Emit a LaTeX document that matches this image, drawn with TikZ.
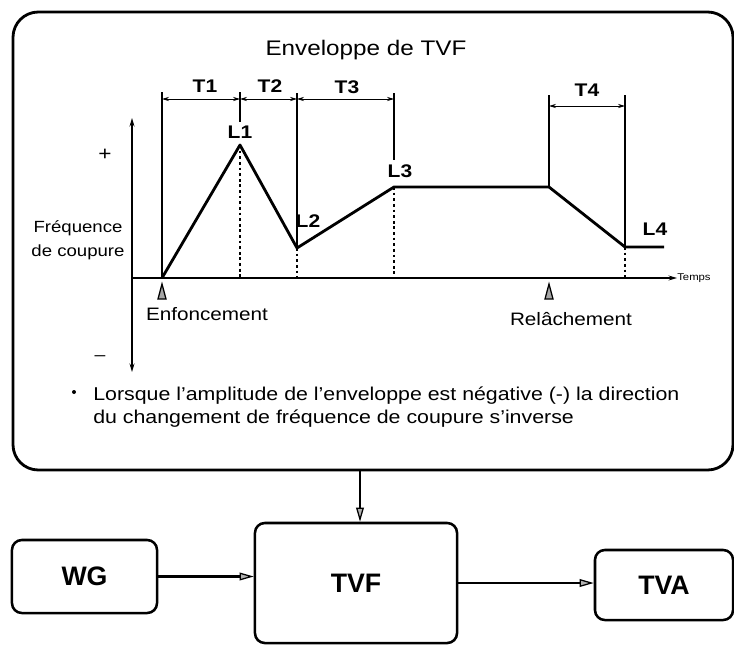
\documentclass[tikz,border=0pt]{standalone}
\usepackage{fontspec}
\setmainfont{Liberation Sans}[FakeStretch=1.15]
\newfontfamily\blockfont{Liberation Sans}
\usetikzlibrary{arrows.meta}

\tikzset{
	block/.style={draw, line width=1.8pt, rounded corners=7pt, inner sep=0pt,
		font=\blockfont\bfseries\fontsize{19}{22}\selectfont},
	flow/.style={line width=1.5pt, -{Triangle[length=10pt, width=5.5pt, line width=0.9pt, fill=gray!60]}},
	tspan/.style={line width=0.7pt, {Stealth[length=5pt, width=3pt]}-{Stealth[length=5pt, width=3pt]}},
	guide/.style={line width=0.8pt},
	drop/.style={line width=0.9pt, dash pattern=on 2pt off 2pt},
	tlabel/.style={inner sep=0pt, font=\bfseries\fontsize{13}{15}\selectfont},
	trig/.style={fill=gray!70, draw=black, line width=0.9pt},
}

\begin{document}
\begin{tikzpicture}[x=0.025cm, y=-0.025cm]
	\useasboundingbox (0,0) rectangle (734,644);

	\draw[line width=2pt, rounded corners=18pt] (13,12) rectangle (733,470);
	\coordinate (envbot) at (360,470);

	\node[font=\fontsize{15}{18}\selectfont] at (366,50) {Enveloppe de TVF};

	\draw[line width=0.9pt, {Stealth[length=6pt, width=3.5pt]}-{Stealth[length=6pt, width=3.5pt]}] (132,372) -- (132,118);
	\draw[line width=0.9pt, -{Stealth[length=6pt, width=3.5pt]}] (132,278) -- (677,278);
	\node[anchor=west, inner sep=0pt, font=\fontsize{7}{8}\selectfont] at (677,278) {Temps};

	\node[font=\fontsize{14}{16}\selectfont] at (105,155) {+};
	\node[font=\fontsize{12}{14}\selectfont] at (100,358) {–};
	\node[align=center, font=\fontsize{11.5}{17}\selectfont] at (78,240) {Fréquence\\de coupure};

	\draw[guide] (162,92) -- (162,278);
	\draw[guide] (240,92) -- (240,122);
	\draw[guide] (297,93) -- (297,248);
	\draw[guide] (394,93) -- (394,160);
	\draw[guide] (549,95) -- (549,187);
	\draw[guide] (625,95) -- (625,247);

	\draw[drop] (240,145) -- (240,278);
	\draw[drop] (297,248) -- (297,278);
	\draw[drop] (394,187) -- (394,278);
	\draw[drop] (625,247) -- (625,278);

	\draw[line width=2pt, line join=round] (162,278) -- (240,145) -- (297,248) -- (394,187)
		-- (549,187) -- (625,247) -- (664,247);

	\draw[tspan] (162,99) -- (240,99);
	\draw[tspan] (240,99) -- (297,99);
	\draw[tspan] (297,99) -- (394,99);
	\draw[tspan] (549,106) -- (625,106);

	\node[tlabel] at (205,86) {T1};
	\node[tlabel] at (270,86) {T2};
	\node[tlabel] at (347,87) {T3};
	\node[tlabel] at (587,90) {T4};

	\node[tlabel] at (240,132) {L1};
	\node[tlabel] at (308,221) {L2};
	\node[tlabel] at (400,171) {L3};
	\node[tlabel] at (655,229) {L4};

	\filldraw[trig] (162,284) -- (158,299) -- (166,299) -- cycle;
	\filldraw[trig] (549,284) -- (545,299) -- (553,299) -- cycle;

	\node[font=\fontsize{12.8}{15}\selectfont] at (207,314) {Enfoncement};
	\node[font=\fontsize{12.8}{15}\selectfont] at (571,319) {Relâchement};

	\fill (74,392) circle (2);
	\node[anchor=base west, inner sep=0pt, font=\fontsize{13.2}{15}\selectfont] at (93,400)
		{Lorsque l'amplitude de l'enveloppe est négative (-) la direction};
	\node[anchor=base west, inner sep=0pt, font=\fontsize{13.2}{15}\selectfont] at (93,423)
		{du changement de fréquence de coupure s'inverse};

	\node[block, minimum width=3.625cm, minimum height=1.825cm] (wg) at (84.5,576.5) {WG};
	\node[block, minimum width=5.05cm, minimum height=3cm] (tvf) at (356,583) {TVF};
	\node[block, minimum width=3.45cm, minimum height=1.75cm] (tva) at (664,585) {TVA};

	\draw[flow] (envbot) -- (envbot |- tvf.north);
	\draw[flow] (wg.east) -- (wg.east -| tvf.west);
	\draw[flow] (tvf.east) -- (tvf.east -| tva.west);
\end{tikzpicture}
\end{document}
